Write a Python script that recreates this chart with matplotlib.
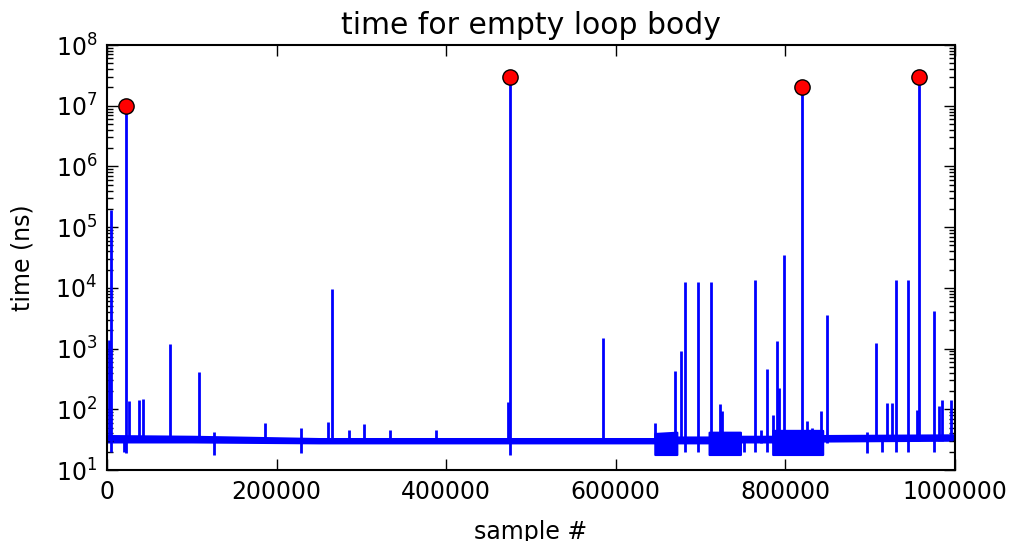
import matplotlib
matplotlib.use("Agg")
import matplotlib.pyplot as plt

# baseline noise band (sample index, lower and upper edge in ns); repeated x = a step
band_x = [0, 100000, 250000, 646000, 646000, 672000, 672000, 710000, 710000,
          747000, 747000, 785000, 785000, 844000, 844000, 1000000]
band_lo = [29, 29, 28, 28, 18, 18, 28, 28, 18,
           18, 29, 29, 18, 18, 30, 31]
band_hi = [37, 36, 33, 33, 40, 42, 35, 35, 42,
           42, 36, 36, 45, 45, 37, 38]

# spikes: sample index, bottom of the excursion, top of the excursion (ns)
spike_x = [2000, 4700, 19500, 22400, 26300, 38100, 42800, 74700, 108800, 126200,
           186300, 229100, 261000, 264900, 285800, 303400, 334100, 387500, 473300, 475200,
           585300, 646600, 670200, 677200, 681900, 697200, 711800, 722900, 725600, 751200,
           764500, 771200, 777900, 785700, 790400, 792000, 798700, 819100, 825800, 830900,
           842000, 848600, 896600, 906800, 914300, 920000, 925600, 930700, 944900, 955500,
           957500, 975600, 981100, 985000, 995300]
spike_lo = [30, 20, 20, 19, 30, 30, 30, 30, 30, 18,
            28, 19, 28, 28, 28, 28, 28, 28, 28, 18,
            28, 28, 28, 28, 20, 20, 20, 28, 28, 20,
            20, 28, 20, 28, 28, 28, 28, 20, 28, 28,
            28, 28, 19, 30, 20, 30, 30, 20, 20, 30,
            30, 20, 30, 30, 30]
spike_hi = [1400, 190000, 30, 1.0e7, 137, 140, 149, 1170, 408, 43,
            59, 49, 62, 9500, 45, 57, 45, 45, 130, 3.0e7,
            1480, 59, 427, 920, 12600, 12600, 12600, 122, 93, 33,
            13500, 45, 460, 80, 1330, 222, 35000, 2.0e7, 65, 50,
            93, 3550, 43, 1230, 33, 129, 129, 13500, 13500, 97,
            3.0e7, 4100, 114, 140, 140]

# the four largest outliers
peak_x = [22400, 475200, 819100, 957500]
peak_y = [1.0e7, 3.0e7, 2.0e7, 3.0e7]

plt.rcParams['font.family'] = ['DejaVu Sans']
plt.rcParams['xtick.direction'] = 'in'
plt.rcParams['ytick.direction'] = 'in'
plt.rcParams['xtick.top'] = True
plt.rcParams['ytick.right'] = True

fig = plt.figure(figsize=(10.14, 5.41), dpi=100)
ax = fig.add_axes([0.1055, 0.1312, 0.8363, 0.7856])

ax.fill_between(band_x, band_lo, band_hi, color='b', lw=1.5, edgecolor='b')
ax.vlines(spike_x, spike_lo, spike_hi, color='b', lw=2)
ax.plot(peak_x, peak_y, 'o', color='r', markeredgecolor='k', markersize=11, zorder=5)

ax.set_yscale('log')
ax.set_ylim(10, 1e8)
ax.set_xlim(0, 1000000)
ax.ticklabel_format(axis='x', style='plain', useOffset=False)

ax.set_title("time for empty loop body", fontsize=21.5, pad=8)
ax.set_xlabel("sample #", fontsize=17, labelpad=12)
ax.set_ylabel("time (ns)", fontsize=17, labelpad=15)
ax.tick_params(which='major', length=8, width=1, labelsize=17, pad=7)
ax.tick_params(which='minor', length=4, width=1)
for sp in ax.spines.values():
    sp.set_linewidth(1.5)

fig.savefig("out.png", dpi=100)
